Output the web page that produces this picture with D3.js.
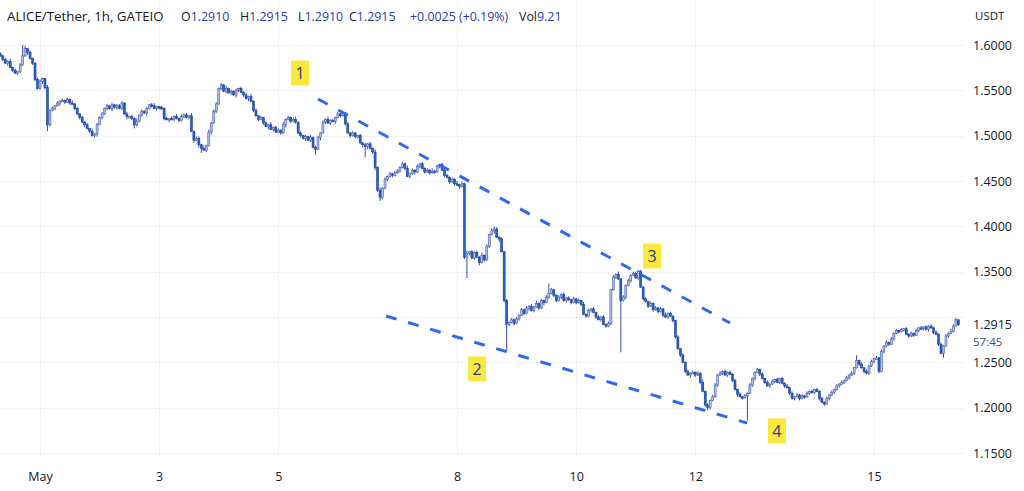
<!DOCTYPE html>
<html><head><meta charset="utf-8">
<script src="https://cdn.jsdelivr.net/npm/d3@7"></script>
<style>
html,body{margin:0;padding:0;background:#fff;}
svg{display:block;}
text{font-family:"Open Sans","Noto Sans",sans-serif;}
</style></head>
<body>
<svg id="c" width="1024" height="491"></svg>
<script>
// ---------- DATA ----------
const title = "ALICE/Tether, 1h, GATEIO";
const ohlcLabels = ["O","H","L","C"];
const ohlcValues = ["1.2910","1.2915","1.2910","1.2915"];
const changeText = "+0.0025 (+0.19%)";
const volLabel = "Vol";
const volValue = "9.21";
const currency = "USDT";
const lastPrice = 1.2915;
const countdown = "57:45";
const firstCandle = "2022-04-30T08:00:00Z";   // hourly candles
const firstOpen = 1.590;
const closes = [
1.588,1.584,1.580,1.582, 1.575,1.572,1.569,1.571, 1.578,1.588,1.596,1.592, 1.585,1.580,1.562,1.552,
1.560,1.563,1.553,1.512, 1.528,1.530,1.533,1.536, 1.538,1.539,1.537,1.540, 1.536,1.535,1.530,1.524,
1.520,1.515,1.512,1.508, 1.505,1.500,1.502,1.512, 1.520,1.524,1.530,1.533, 1.530,1.534,1.531,1.533,
1.530,1.536,1.524,1.521, 1.521,1.519,1.512,1.516, 1.523,1.527,1.525,1.530, 1.534,1.533,1.530,1.532,
1.531,1.530,1.519,1.518, 1.519,1.518,1.521,1.519, 1.517,1.521,1.523,1.520, 1.522,1.505,1.495,1.497,
1.490,1.486,1.484,1.489, 1.504,1.514,1.527,1.535, 1.552,1.556,1.549,1.552, 1.547,1.549,1.545,1.550,
1.552,1.548,1.545,1.541, 1.543,1.538,1.528,1.522, 1.518,1.520,1.514,1.510, 1.512,1.507,1.509,1.504,
1.506,1.503,1.512,1.518, 1.520,1.516,1.518,1.515, 1.503,1.500,1.497,1.499, 1.495,1.498,1.487,1.485,
1.498,1.503,1.515,1.518, 1.514,1.517,1.516,1.520, 1.524,1.522,1.525,1.513, 1.503,1.500,1.503,1.499,
1.500,1.492,1.490,1.488, 1.491,1.486,1.482,1.465, 1.440,1.432,1.442,1.452, 1.455,1.458,1.456,1.459,
1.461,1.465,1.469,1.464, 1.455,1.458,1.462,1.460, 1.466,1.469,1.464,1.460, 1.462,1.459,1.461,1.460,
1.466,1.468,1.462,1.456, 1.454,1.449,1.452,1.447, 1.446,1.444,1.447,1.366, 1.370,1.372,1.365,1.371,
1.366,1.360,1.368,1.363, 1.378,1.391,1.395,1.397, 1.388,1.386,1.372,1.318, 1.292,1.294,1.297,1.293,
1.298,1.302,1.308,1.304, 1.309,1.312,1.307,1.311, 1.315,1.310,1.318,1.316, 1.322,1.326,1.330,1.324,
1.318,1.322,1.325,1.318, 1.321,1.319,1.316,1.320, 1.316,1.318,1.314,1.303, 1.301,1.307,1.309,1.305,
1.300,1.297,1.300,1.292, 1.290,1.293,1.330,1.344, 1.347,1.342,1.318,1.322, 1.335,1.340,1.346,1.348,
1.343,1.350,1.333,1.320, 1.317,1.312,1.315,1.308, 1.310,1.306,1.309,1.302, 1.300,1.304,1.301,1.296,
1.278,1.265,1.258,1.250, 1.240,1.236,1.238,1.239, 1.236,1.238,1.228,1.218, 1.203,1.200,1.208,1.212,
1.225,1.236,1.238,1.240, 1.236,1.239,1.237,1.230, 1.220,1.215,1.212,1.211, 1.213,1.216,1.225,1.232,
1.239,1.242,1.237,1.232, 1.228,1.224,1.226,1.229, 1.231,1.228,1.232,1.227, 1.224,1.222,1.216,1.210,
1.212,1.214,1.210,1.213, 1.212,1.216,1.218,1.217, 1.220,1.218,1.210,1.206, 1.204,1.210,1.214,1.217,
1.220,1.224,1.226,1.228, 1.230,1.233,1.236,1.238, 1.244,1.252,1.248,1.244, 1.240,1.238,1.246,1.251,
1.254,1.255,1.240,1.262, 1.268,1.272,1.270,1.276, 1.282,1.285,1.284,1.286, 1.287,1.281,1.279,1.282,
1.280,1.285,1.288,1.287, 1.289,1.286,1.290,1.288, 1.283,1.281,1.270,1.260, 1.268,1.279,1.282,1.284,
1.290,1.297,1.2915
];
// per-candle wick lengths above / below the body, in 0.001 steps
const wickUpSteps =
 "2121312021302112"+"2103121212021312"+"1212031212120212"+"2312121302121231"+
 "1212021312121302"+"2131312212131212"+"1212131202121312"+"2131212302121312"+
 "2121312121312121"+"1212121313121212"+"2121312121212131"+"2121212131213121"+
 "2131213121212121"+"2121312131212121"+"1212121212131212"+"1212121213121212"+
 "2121212121213121"+"1212121212131212"+"2121212121212121"+"1212121212121212"+
 "1212121212121212"+"1212121213121212"+"1212121212121212"+"1212121212121213"+"210";
const wickDownSteps =
 "1213021221131221"+"1320212131212021"+"2131212302121312"+"1213120212131212"+
 "2120312121202131"+"3212131212120213"+"2121312121203121"+"1213121212131213"+
 "1312121312121212"+"2131312321212121"+"1212121312121212"+"1212121213121212"+
 "1312121313121212"+"1212121212131212"+"2121212121212121"+"2121212121312121"+
 "1212121212121212"+"2121213121212121"+"1212121213121212"+"2121212121212121"+
 "2121212121212121"+"2121212121212121"+"2121212121212121"+"2121212121213121"+"101";
// notable long wicks: [candle index, price]
const wickHighs = [[9,1.600],[49,1.538],[89,1.558],[138,1.527],[162,1.471],[199,1.400],[221,1.337],[257,1.352],[345,1.258],[385,1.299]];
const wickLows  = [[19,1.505],[54,1.508],[81,1.481],[127,1.479],[147,1.476],[153,1.428],[188,1.343],[204,1.264],[250,1.261],[285,1.197],[301,1.186],[332,1.202],[380,1.255]];
const xTickDates  = ["2022-05-01","2022-05-03","2022-05-05","2022-05-08","2022-05-10","2022-05-12","2022-05-15"];
const xTickLabels = ["May","3","5","8","10","12","15"];
const gridPrices = [1.60,1.55,1.50,1.45,1.40,1.35,1.30,1.25,1.20,1.15];
const axisLabelPrices = [1.60,1.55,1.50,1.45,1.40,1.35,1.25,1.20,1.15];
const trendLines = [
  [["2022-05-05T16:00:00Z",1.5404],["2022-05-12T14:00:00Z",1.2934]],
  [["2022-05-06T19:24:00Z",1.3011],["2022-05-12T20:50:00Z",1.1831]]
];
const markerLabels = ["1","2","3","4"];
const markerTimes  = ["2022-05-05T08:45:00Z","2022-05-08T08:06:00Z","2022-05-11T06:36:00Z","2022-05-13T08:54:00Z"];
const markerPrices = [1.5691,1.2427,1.3673,1.1743];

// ---------- LAYOUT ----------
const plotRight = 963, plotBottom = 458;
const svg = d3.select("#c");
const t0 = new Date(firstCandle).getTime();
const HOUR = 3600e3;

const x = d3.scaleUtc()
  .domain([new Date("2022-05-01T00:00:00Z"), new Date("2022-05-15T00:00:00Z")])
  .range([40, 874]);
const y = d3.scaleLinear().domain([1.15, 1.60]).range([453, 45]);

// candles
const hiMap = new Map(wickHighs), loMap = new Map(wickLows);
const candles = closes.map((c, i) => {
  const o = i === 0 ? firstOpen : closes[i - 1];
  const up = +wickUpSteps[i] * 0.001, dn = +wickDownSteps[i] * 0.001;
  const hi = hiMap.has(i) ? hiMap.get(i) : Math.max(o, c) + up;
  const lo = loMap.has(i) ? loMap.get(i) : Math.min(o, c) - dn;
  return {t: new Date(t0 + i * HOUR), o, c, hi, lo};
});

// grid
const grid = svg.append("g");
grid.selectAll("line.v").data(xTickDates).join("line")
  .attr("x1", d => Math.round(x(new Date(d + "T00:00:00Z"))) + 0.5)
  .attr("x2", d => Math.round(x(new Date(d + "T00:00:00Z"))) + 0.5)
  .attr("y1", 0).attr("y2", plotBottom)
  .attr("stroke", "#f0f2f6").attr("stroke-width", 1);
grid.selectAll("line.h").data(gridPrices).join("line")
  .attr("x1", 0).attr("x2", plotRight)
  .attr("y1", d => Math.round(y(d)) + 0.5).attr("y2", d => Math.round(y(d)) + 0.5)
  .attr("stroke", "#f0f2f6").attr("stroke-width", 1);

// candles draw
const cg = svg.append("g");
const bw = 2.0;
cg.selectAll("line.w").data(candles).join("line")
  .attr("x1", d => x(d.t)).attr("x2", d => x(d.t))
  .attr("y1", d => y(d.hi)).attr("y2", d => y(d.lo))
  .attr("stroke", "#3a4ea6").attr("stroke-width", 1);
cg.selectAll("rect").data(candles).join("rect")
  .attr("x", d => x(d.t) - bw / 2)
  .attr("width", bw)
  .attr("y", d => y(Math.max(d.o, d.c)))
  .attr("height", d => Math.max(1.5, Math.abs(y(d.o) - y(d.c))))
  .attr("fill", d => d.c >= d.o ? "#b2bce8" : "#2065c8")
  .attr("stroke", d => d.c >= d.o ? "#5163b3" : "#1d3f96")
  .attr("stroke-width", 0.6);

// trend lines
const line = d3.line().x(d => x(new Date(d[0]))).y(d => y(d[1]));
svg.append("g").selectAll("path").data(trendLines).join("path")
  .attr("d", line).attr("fill", "none")
  .attr("stroke", "#2f68f6").attr("stroke-width", 3)
  .attr("stroke-dasharray", "11,12");

// markers
const mg = svg.append("g").selectAll("g").data(markerLabels).join("g")
  .attr("transform", (d, i) => `translate(${x(new Date(markerTimes[i]))},${y(markerPrices[i])})`);
mg.append("rect").attr("x", -9).attr("y", -12.5).attr("width", 18).attr("height", 25).attr("fill", "#fbe83c");
mg.append("text").text(d => d).attr("text-anchor", "middle").attr("dy", "0.36em")
  .attr("font-size", 16).attr("fill", "#293a85");

// right axis
const ya = svg.append("g").attr("transform", `translate(966,0)`)
  .call(d3.axisRight(y).tickValues(axisLabelPrices).tickFormat(d3.format(".4f")).tickSize(0).tickPadding(7));
ya.select(".domain").remove();
ya.selectAll("text").attr("font-size", 12.5).attr("fill", "#131722")
  .attr("font-family", "'Open Sans','Noto Sans',sans-serif");
svg.append("text").attr("x", 975).attr("y", 20).text(currency)
  .attr("font-size", 11.5).attr("fill", "#131722");
svg.append("text").attr("x", 973).attr("y", y(lastPrice)).attr("dy", "0.35em")
  .text(d3.format(".4f")(lastPrice)).attr("font-size", 12.5).attr("fill", "#131722");
svg.append("text").attr("x", 973).attr("y", y(lastPrice) + 17).attr("dy", "0.35em")
  .text(countdown).attr("font-size", 11.5).attr("fill", "#4a4e5a");

// bottom axis
const xa = svg.append("g").attr("transform", `translate(0,466)`)
  .call(d3.axisBottom(x).tickValues(xTickDates.map(d => new Date(d + "T00:00:00Z")))
    .tickFormat((d, i) => xTickLabels[i]).tickSize(0).tickPadding(6));
xa.select(".domain").remove();
xa.selectAll("text").attr("font-size", 12.5).attr("fill", "#131722")
  .attr("font-family", "'Open Sans','Noto Sans',sans-serif");

// header
const fs = 13.3, fs2 = 12.4;
const hdr = svg.append("text").attr("x", 7).attr("y", 21).attr("font-size", fs);
hdr.append("tspan").text(title).attr("fill", "#131722");
const ohlcX = [181, 240, 298, 349];
ohlcLabels.forEach((l, i) => {
  const t = svg.append("text").attr("x", ohlcX[i]).attr("y", 21).attr("font-size", fs2);
  t.append("tspan").text(l).attr("fill", "#131722");
  t.append("tspan").text(ohlcValues[i]).attr("fill", "#2a3ca8");
});
svg.append("text").attr("x", 410).attr("y", 21).attr("font-size", fs2)
  .text(changeText).attr("fill", "#2a3ca8");
const vt = svg.append("text").attr("x", 519).attr("y", 21).attr("font-size", fs2);
vt.append("tspan").text(volLabel).attr("fill", "#131722");
vt.append("tspan").text(volValue).attr("fill", "#2a3ca8");
</script>
</body></html>
